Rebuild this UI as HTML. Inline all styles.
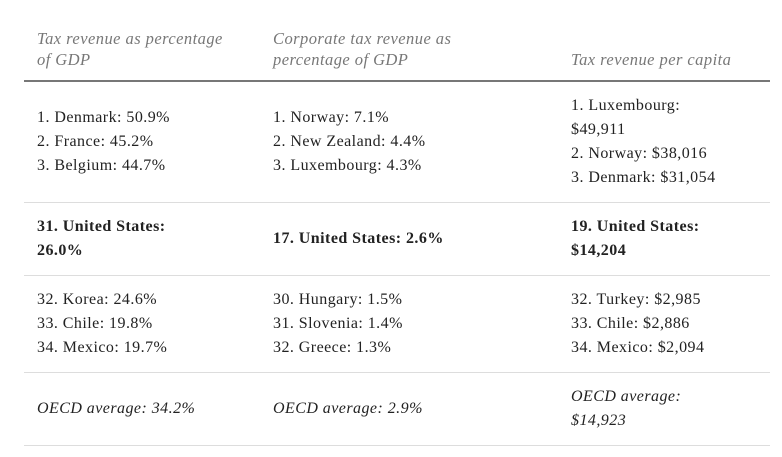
<!DOCTYPE html>
<html><head><meta charset="utf-8"><style>
body{margin:0;background:#fff;width:782px;height:457px;overflow:hidden;font-family:"Liberation Serif",serif;}
table{position:absolute;left:24px;top:20px;width:746px;border-collapse:collapse;table-layout:fixed;}
td,th{padding:0 10px 0 13px;vertical-align:middle;text-align:left;font-size:16px;letter-spacing:0.45px;line-height:24px;color:#222;white-space:nowrap;}
th{font-weight:normal;font-style:italic;color:#777;font-size:16.5px;line-height:21px;vertical-align:bottom;height:50px;padding-bottom:10px;border-bottom:2px solid #777;}
tr.r td{border-bottom:1px solid #ddd;}
.b{font-weight:bold;}
.i{font-style:italic;}
</style></head><body>
<table>
<colgroup><col style="width:236px"><col style="width:298px"><col style="width:212px"></colgroup>
<tr>
<th>Tax revenue as percentage<br>of GDP</th>
<th>Corporate tax revenue as<br>percentage of GDP</th>
<th>Tax revenue per capita</th></tr>
<tr class="r" style="height:121px">
<td>1. Denmark: 50.9%<br>2. France: 45.2%<br>3. Belgium: 44.7%</td>
<td>1. Norway: 7.1%<br>2. New Zealand: 4.4%<br>3. Luxembourg: 4.3%</td>
<td>1. Luxembourg:<br>$49,911<br>2. Norway: $38,016<br>3. Denmark: $31,054</td></tr>
<tr class="r" style="height:73px">
<td class="b">31. United States:<br>26.0%</td>
<td class="b">17. United States: 2.6%</td>
<td class="b">19. United States:<br>$14,204</td></tr>
<tr class="r" style="height:97px">
<td>32. Korea: 24.6%<br>33. Chile: 19.8%<br>34. Mexico: 19.7%</td>
<td>30. Hungary: 1.5%<br>31. Slovenia: 1.4%<br>32. Greece: 1.3%</td>
<td>32. Turkey: $2,985<br>33. Chile: $2,886<br>34. Mexico: $2,094</td></tr>
<tr class="r" style="height:73px">
<td class="i">OECD average: 34.2%</td>
<td class="i">OECD average: 2.9%</td>
<td class="i">OECD average:<br>$14,923</td></tr>
</table>
</body></html>
